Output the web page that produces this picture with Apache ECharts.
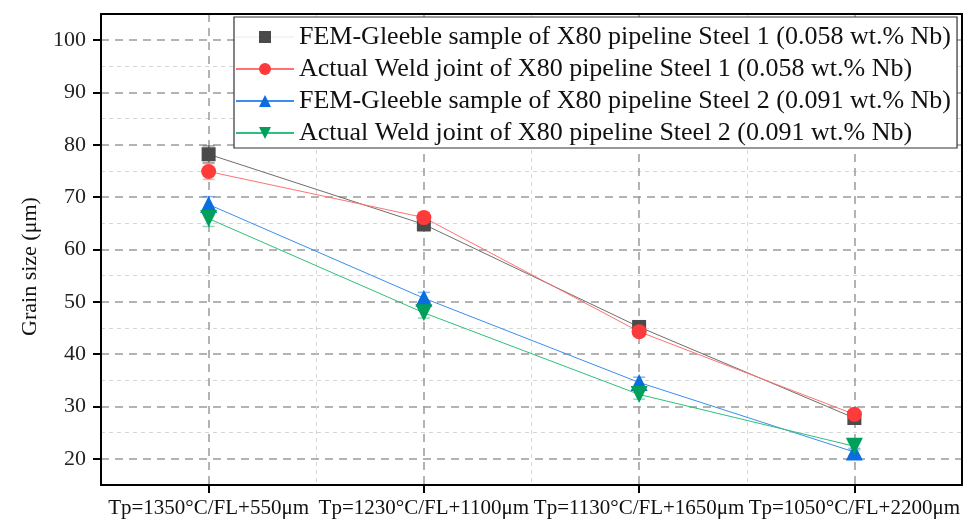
<!DOCTYPE html>
<html><head><meta charset="utf-8">
<script src="https://cdn.jsdelivr.net/npm/echarts@6/dist/echarts.min.js"></script>
<style>html,body{margin:0;padding:0;background:#fff}#c{width:967px;height:522px}</style>
</head><body><div id="c"></div>
<script>
const categories = ['Tp=1350°C/FL+550μm', 'Tp=1230°C/FL+1100μm', 'Tp=1130°C/FL+1650μm', 'Tp=1050°C/FL+2200μm'];
const seriesNames = [
  'FEM-Gleeble sample of X80 pipeline Steel 1 (0.058 wt.% Nb)',
  'Actual Weld joint of X80 pipeline Steel 1 (0.058 wt.% Nb)',
  'FEM-Gleeble sample of X80 pipeline Steel 2 (0.091 wt.% Nb)',
  'Actual Weld joint of X80 pipeline Steel 2 (0.091 wt.% Nb)'
];
const femSteel1 = [78.2, 64.8, 45.2, 27.8];
const actualSteel1 = [74.9, 66.1, 44.3, 28.5];
const femSteel2 = [68.6, 50.7, 34.6, 21.3];
const actualSteel2 = [65.9, 47.9, 32.3, 22.4];
const errFemSteel1 = [1.6, 1.2, 1.0, 0.8];
const errActualSteel1 = [1.5, 1.0, 0.9, 0.8];
const errFemSteel2 = [1.5, 1.1, 1.0, 0.7];
const errActualSteel2 = [1.5, 1.0, 0.9, 0.7];
const yLabelValues = [20, 30, 40, 50, 60, 70, 80, 90, 100];

const FONT = '"Liberation Serif", "Times New Roman", serif';
const colors = ['#4a4a4a', '#ff3a3a', '#0a6ee0', '#00a05a'];
const lineColors = ['#6e6e6e', '#ff7272', '#3a8ef0', '#2ec07a'];
const errColors = ['rgba(90,90,90,0.55)', 'rgba(255,90,90,0.5)', 'rgba(20,110,230,0.5)', 'rgba(0,170,100,0.45)'];
const symbols = ['rect', 'circle', 'triangle', 'triangle'];
const rotates = [0, 0, 0, 180];
const sizes = [14, 15, 17, 17];
const values = [femSteel1, actualSteel1, femSteel2, actualSteel2];
const errs = [errFemSteel1, errActualSteel1, errFemSteel2, errActualSteel2];

const chart = echarts.init(document.getElementById('c'));
const series = [];
values.forEach((vals, s) => {
  series.push({
    name: 'err' + s, type: 'custom', xAxisIndex: 0, yAxisIndex: 0, z: 2, silent: true,
    data: vals.map((v, i) => [i + 1, v - errs[s][i], v + errs[s][i]]),
    renderItem: (params, api) => {
      const x = api.value(0);
      const p1 = api.coord([x, api.value(1)]);
      const p2 = api.coord([x, api.value(2)]);
      const w = 6;
      const st = { stroke: errColors[s], lineWidth: 1.5 };
      return { type: 'group', children: [
        { type: 'line', shape: { x1: p1[0], y1: p1[1], x2: p2[0], y2: p2[1] }, style: st },
        { type: 'line', shape: { x1: p1[0] - w, y1: p1[1], x2: p1[0] + w, y2: p1[1] }, style: st },
        { type: 'line', shape: { x1: p2[0] - w, y1: p2[1], x2: p2[0] + w, y2: p2[1] }, style: st }
      ] };
    }
  });
});
values.forEach((vals, s) => {
  series.push({
    name: seriesNames[s], type: 'line', xAxisIndex: 0, yAxisIndex: 0, z: 3,
    data: vals.map((v, i) => [i + 1, v]),
    symbol: symbols[s], symbolRotate: rotates[s], symbolSize: sizes[s],
    itemStyle: { color: colors[s] },
    lineStyle: { color: lineColors[s], width: 1 },
    emphasis: { disabled: true }
  });
});

const majorLine = { color: '#9a9a9a', width: 1.5, type: [8, 6] };
const minorLine = { color: '#d6d6d6', width: 1, type: [4, 4] };
const frameLine = { show: true, lineStyle: { color: '#000', width: 2 } };

chart.setOption({
  animation: false,
  backgroundColor: '#fff',
  grid: { left: 101, right: 5, top: 14, bottom: 37 },
  legend: {
    data: seriesNames.map((n, i) => i === 0 ? { name: n, lineStyle: { opacity: 0.08 } } : { name: n }),
    orient: 'vertical', left: 234, top: 17,
    padding: [6, 6, 1, 1], itemGap: 4, itemWidth: 58, itemHeight: 15,
    backgroundColor: '#fff', borderColor: '#333', borderWidth: 1.2, borderRadius: 0,
    textStyle: { fontFamily: FONT, fontSize: 26, color: '#111', lineHeight: 28 },
    z: 10
  },
  xAxis: [
    { type: 'value', min: 0.5, max: 4.5, interval: 1,
      axisLine: frameLine,
      axisTick: { show: false }, axisLabel: { show: false },
      splitLine: { show: true, showMinLine: false, showMaxLine: false, lineStyle: minorLine },
      minorTick: { show: true, splitNumber: 2, length: 8, lineStyle: { color: '#000', width: 2 } },
      minorSplitLine: { show: true, lineStyle: majorLine } },
    { type: 'value', min: 0.5, max: 4.5, interval: 0.5, position: 'bottom',
      axisLine: { show: false }, axisTick: { show: false }, splitLine: { show: false },
      axisLabel: { margin: 13, fontFamily: FONT, fontSize: 21, color: '#111',
        formatter: v => Math.abs(v - Math.round(v)) < 1e-6 && categories[Math.round(v) - 1] ? categories[Math.round(v) - 1] : '' } },
    { type: 'value', min: 0.5, max: 4.5, position: 'top',
      axisLine: frameLine, axisTick: { show: false }, axisLabel: { show: false }, splitLine: { show: false } }
  ],
  yAxis: [
    { type: 'value', min: 15, max: 105, interval: 10,
      axisLine: frameLine,
      axisTick: { show: false }, axisLabel: { show: false },
      splitLine: { show: true, showMinLine: false, showMaxLine: false, lineStyle: minorLine },
      minorTick: { show: true, splitNumber: 2, length: 8, lineStyle: { color: '#000', width: 2 } },
      minorSplitLine: { show: true, lineStyle: majorLine } },
    { type: 'value', min: 15, max: 105, interval: 5, position: 'left',
      axisLine: { show: false }, axisTick: { show: false }, splitLine: { show: false },
      name: 'Grain size (μm)', nameLocation: 'middle', nameGap: 60,
      nameTextStyle: { fontFamily: FONT, fontSize: 22, color: '#111', padding: [0, 34, 0, 0] },
      axisLabel: { margin: 15, fontFamily: FONT, fontSize: 22, color: '#222',
        formatter: v => yLabelValues.indexOf(Math.round(v)) >= 0 && Math.abs(v - Math.round(v)) < 1e-6 ? String(Math.round(v)) : '' } },
    { type: 'value', min: 15, max: 105, position: 'right',
      axisLine: frameLine, axisTick: { show: false }, axisLabel: { show: false }, splitLine: { show: false } }
  ],
  series: series
});
</script></body></html>
